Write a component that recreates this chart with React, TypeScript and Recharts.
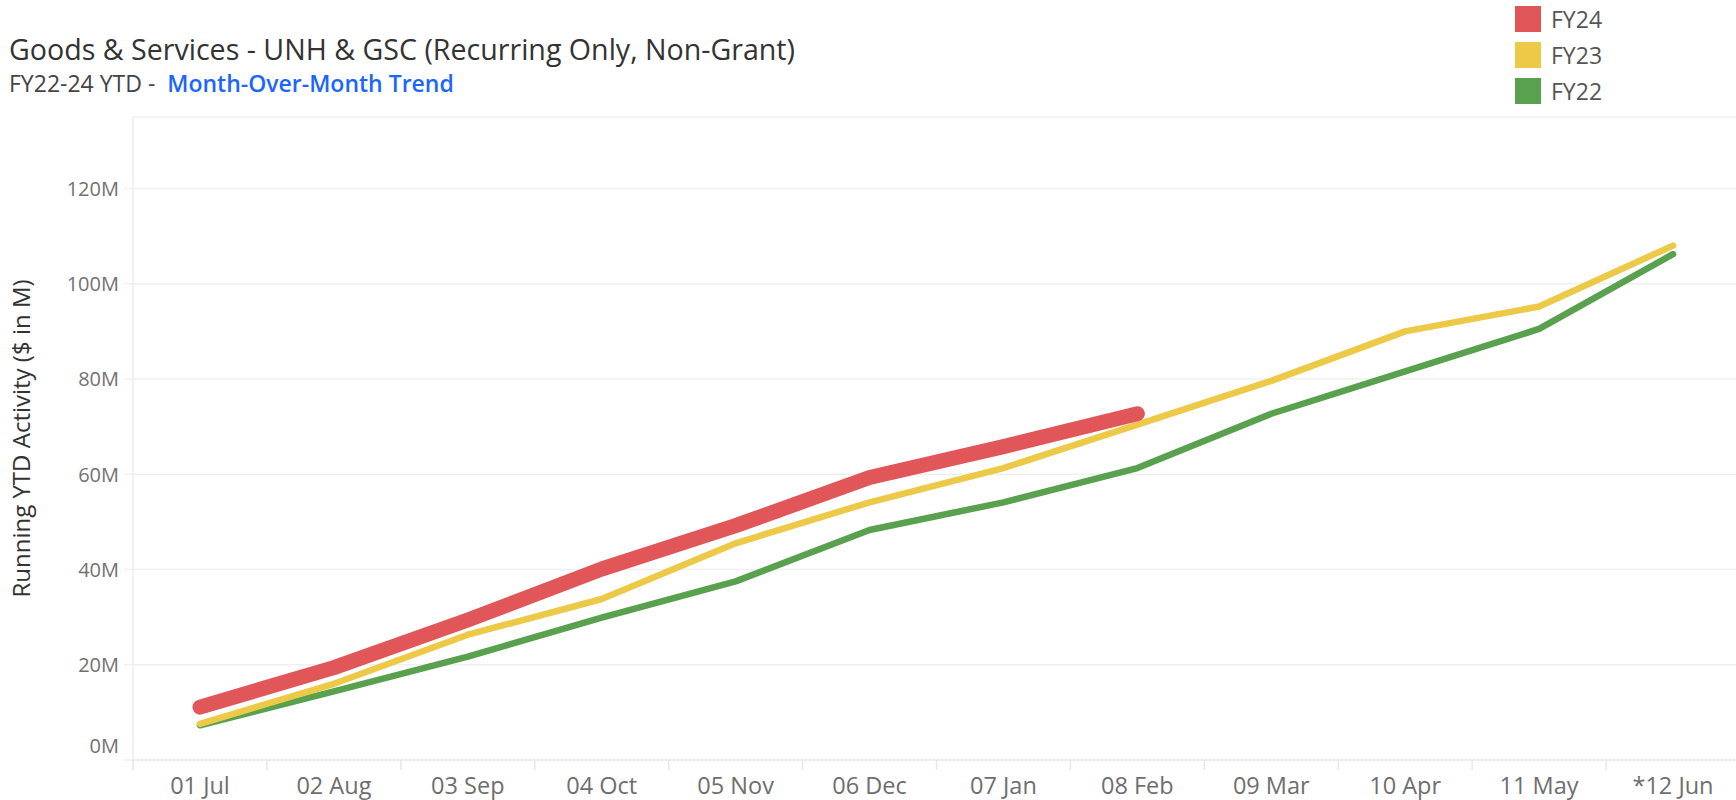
import React from 'react';
import { LineChart, Line, XAxis, YAxis, CartesianGrid, Legend } from 'recharts';

// month labels on the x axis (Tableau fiscal order)
const months = ['01 Jul', '02 Aug', '03 Sep', '04 Oct', '05 Nov', '06 Dec', '07 Jan', '08 Feb', '09 Mar', '10 Apr', '11 May', '*12 Jun'];

// running YTD activity, $ in millions
const fy24 = [11.1, 19.4, 29.4, 40.1, 49.2, 59.3, 65.8, 72.7, null, null, null, null];
const fy23 = [7.6, 16.0, 26.3, 33.8, 45.5, 54.1, 61.3, 70.4, 79.6, 90.0, 95.2, 108.0];
const fy22 = [7.3, 14.4, 21.7, 29.9, 37.5, 48.3, 54.1, 61.3, 72.7, 81.6, 90.5, 106.2];

const yTicks = [0, 20, 40, 60, 80, 100, 120];

const series = [
  { key: 'FY24', color: '#E15759' },
  { key: 'FY23', color: '#EDC948' },
  { key: 'FY22', color: '#59A14F' },
];

const data = months.map((m, i) => ({ month: m, FY24: fy24[i], FY23: fy23[i], FY22: fy22[i] }));

const FONT = '"Open Sans", "Noto Sans", sans-serif';
const STEP = 133.9; // distance between month columns

const XTick = (props: any) => {
  const { x, y, payload } = props;
  return (
    <g>
      <line x1={x - STEP / 2} x2={x - STEP / 2} y1={y} y2={y + 10} stroke="#e8e8e8" strokeWidth={1.5} />
      <text x={x} y={y + 25} textAnchor="middle" dominantBaseline="central" fill="#6e6e6e" fontSize={23.5} fontFamily={FONT}>
        {payload.value}
      </text>
    </g>
  );
};

const YTick = (props: any) => {
  const { x, y, payload } = props;
  // tableau pushes the bottom label up inside the pane
  const shift = payload.value === 0 ? -15 : 0;
  return (
    <text x={x} y={y + shift} textAnchor="end" dominantBaseline="central" fill="#727272" fontSize={20} fontFamily={FONT}>
      {payload.value}M
    </text>
  );
};

const YTitle = (props: any) => {
  const vb = props.viewBox;
  const cy = vb.y + vb.height / 2;
  return (
    <text x={20} y={cy} transform={`rotate(-90, 20, ${cy})`} textAnchor="middle" dominantBaseline="central" fill="#333" fontSize={24} fontFamily={FONT}>
      Running YTD Activity ($ in M)
    </text>
  );
};

const LegendBox = () => (
  <div style={{ fontFamily: FONT }}>
    {series.map((s) => (
      <div key={s.key} style={{ display: 'flex', alignItems: 'center', height: 36 }}>
        <div style={{ width: 26, height: 26, background: s.color, marginRight: 10 }} />
        <span style={{ fontSize: 23, color: '#555' }}>{s.key}</span>
      </div>
    ))}
  </div>
);

export default function App() {
  return (
    <div style={{ position: 'absolute', left: 0, top: 0, width: 1736, height: 800, overflow: 'hidden', background: '#fff' }}>
      <div style={{ position: 'absolute', left: 9, top: 35, fontFamily: FONT, fontSize: 28.6, color: '#333', whiteSpace: 'nowrap', lineHeight: 1 }}>
        Goods &amp; Services - UNH &amp; GSC (Recurring Only, Non-Grant)
      </div>
      <div style={{ position: 'absolute', left: 9, top: 72, fontFamily: FONT, fontSize: 23, color: '#444', whiteSpace: 'nowrap', lineHeight: 1 }}>
        FY22-24 YTD -&nbsp; <span style={{ color: '#1a66ff', fontWeight: 600 }}>Month-Over-Month Trend</span>
      </div>
      <LineChart width={1740} height={800} data={data} margin={{ top: 117, right: 0, left: 0, bottom: 0 }} style={{ position: 'absolute', left: 0, top: 0 }}>
        <CartesianGrid vertical={false} stroke="#f0f0f0" strokeWidth={1.5} />
        <XAxis
          dataKey="month"
          height={40}
          padding={{ left: 67, right: 67 }}
          tickLine={false}
          tickSize={0}
          tickMargin={0}
          axisLine={{ stroke: '#d9d9d9', strokeDasharray: '2 2' }}
          tick={<XTick />}
          interval={0}
        />
        <YAxis
          width={133}
          domain={[0, 135]}
          ticks={yTicks}
          tickSize={9}
          tickMargin={5}
          tickLine={{ stroke: '#f0f0f0', strokeWidth: 1.5 }}
          axisLine={{ stroke: '#ececec', strokeWidth: 1.5 }}
          tick={<YTick />}
          label={{ content: <YTitle /> }}
        />
        <Legend layout="horizontal" verticalAlign="middle" align="center" content={<LegendBox />} wrapperStyle={{ top: 1, left: 1515, width: 160 }} />
        <Line dataKey="FY22" type="linear" stroke="#59A14F" strokeWidth={6.5} strokeLinecap="round" strokeLinejoin="round" dot={false} isAnimationActive={false} />
        <Line dataKey="FY23" type="linear" stroke="#EDC948" strokeWidth={6.5} strokeLinecap="round" strokeLinejoin="round" dot={false} isAnimationActive={false} />
        <Line dataKey="FY24" type="linear" stroke="#E15759" strokeWidth={15} strokeLinecap="round" strokeLinejoin="round" dot={false} isAnimationActive={false} />
      </LineChart>
    </div>
  );
}
